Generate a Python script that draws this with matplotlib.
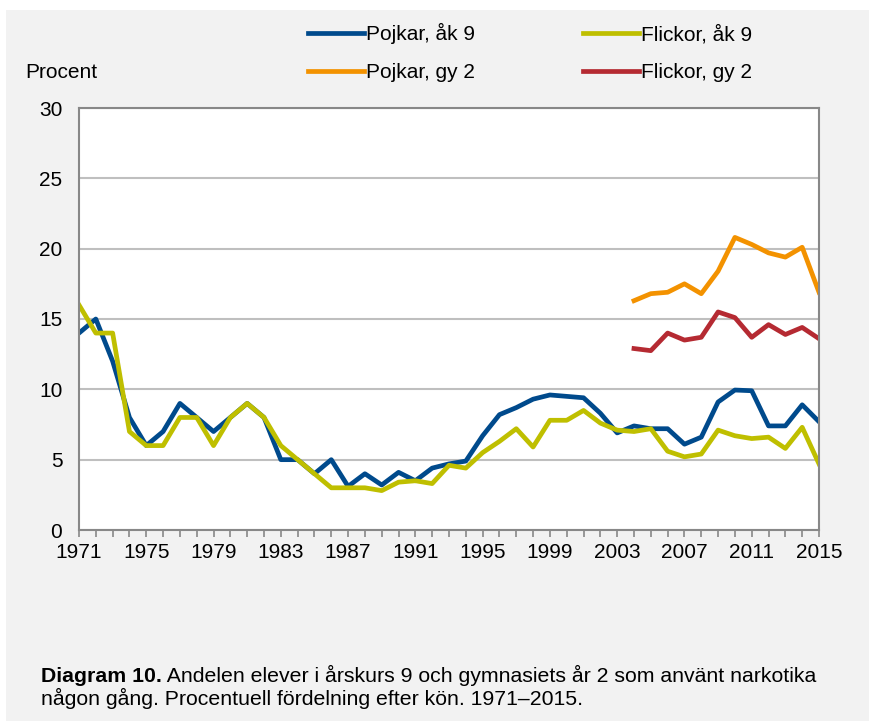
import matplotlib
matplotlib.use("Agg")
import matplotlib.pyplot as plt
from matplotlib.patches import Rectangle

plt.rcParams['font.family'] = ['Liberation Sans', 'DejaVu Sans']

# data (percent)
years = list(range(1971, 2016))
pojkar_ak9 = [14, 15, 12, 8, 6, 7, 9, 8, 7, 8, 9, 8, 5, 5, 4, 5, 3.1, 4, 3.2, 4.1,
              3.5, 4.4, 4.7, 4.9, 6.7, 8.2, 8.7, 9.3, 9.6, 9.5, 9.4, 8.3, 6.9, 7.4,
              7.2, 7.2, 6.1, 6.6, 9.1, 9.95, 9.9, 7.4, 7.4, 8.9, 7.7]
flickor_ak9 = [16, 14, 14, 7, 6, 6, 8, 8, 6, 8, 9, 8, 6, 5, 4, 3, 3, 3, 2.8, 3.4,
               3.5, 3.3, 4.6, 4.4, 5.5, 6.3, 7.2, 5.9, 7.8, 7.8, 8.5, 7.6, 7.1, 7.0,
               7.2, 5.6, 5.2, 5.4, 7.1, 6.7, 6.5, 6.6, 5.8, 7.3, 4.7]
gy_years = list(range(2004, 2016))
pojkar_gy2 = [16.3, 16.8, 16.9, 17.5, 16.8, 18.4, 20.8, 20.3, 19.7, 19.4, 20.1, 16.9]
flickor_gy2 = [12.9, 12.75, 14.0, 13.5, 13.7, 15.5, 15.1, 13.7, 14.6, 13.9, 14.4, 13.6]

W, H = 869, 721
fs = 15
fig = plt.figure(figsize=(W / 100, H / 100), dpi=100, facecolor='#f2f2f2')
# white strips at top and left edge
fig.patches.append(Rectangle((0, 1 - 10 / H), 1, 10 / H, transform=fig.transFigure,
                             facecolor='white', edgecolor='none', zorder=-1))
fig.patches.append(Rectangle((0, 0), 6 / W, 1, transform=fig.transFigure,
                             facecolor='white', edgecolor='none', zorder=-1))

ax = fig.add_axes([79 / W, 1 - 530 / H, 740 / W, 422 / H])
ax.set_facecolor('white')

lw = 3.4
l1, = ax.plot(years, pojkar_ak9, color='#004a8c', lw=lw, label='Pojkar, åk 9')
l2, = ax.plot(years, flickor_ak9, color='#bfbf00', lw=lw, label='Flickor, åk 9')
l3, = ax.plot(gy_years, pojkar_gy2, color='#f39200', lw=lw, label='Pojkar, gy 2')
l4, = ax.plot(gy_years, flickor_gy2, color='#b52a32', lw=lw, label='Flickor, gy 2')

ax.set_xlim(1971, 2015)
ax.set_ylim(0, 30)
ax.set_yticks(range(0, 31, 5))
ax.set_xticks(years)
ax.set_xticklabels([str(y) if (y - 1971) % 4 == 0 else '' for y in years])
ax.tick_params(axis='y', length=0, pad=12, labelsize=fs)
ax.tick_params(axis='x', length=5, width=1.2, color='#888888', pad=4, labelsize=fs)
ax.yaxis.grid(True, color='#bfbfbf', lw=1.5)
ax.set_axisbelow(True)
for s in ax.spines.values():
    s.set_color('#888888')
    s.set_linewidth(1.5)

fig.legend(handles=[l1, l3, l2, l4], ncol=2, frameon=False, loc='upper left',
           bbox_to_anchor=(308 / W, 1 - 23 / H), borderpad=0, borderaxespad=0,
           handlelength=2.7, handletextpad=0.1, columnspacing=5.15,
           labelspacing=0.9, fontsize=fs)

fig.text(25 / W, 1 - 73 / H, 'Procent', fontsize=fs, va='center', ha='left')

cfs = 15.3
bold = fig.text(41 / W, 1 - 682 / H, 'Diagram 10.', fontsize=cfs, fontweight='bold',
                va='baseline', ha='left')
ax.annotate(' Andelen elever i årskurs 9 och gymnasiets år 2 som använt narkotika',
            xy=(1, 0), xycoords=bold, va='bottom', ha='left', fontsize=cfs,
            annotation_clip=False)
fig.text(41 / W, 1 - 705 / H, 'någon gång. Procentuell fördelning efter kön. 1971–2015.',
         fontsize=cfs, va='baseline', ha='left')

fig.savefig('out.png', dpi=100, facecolor=fig.get_facecolor())
